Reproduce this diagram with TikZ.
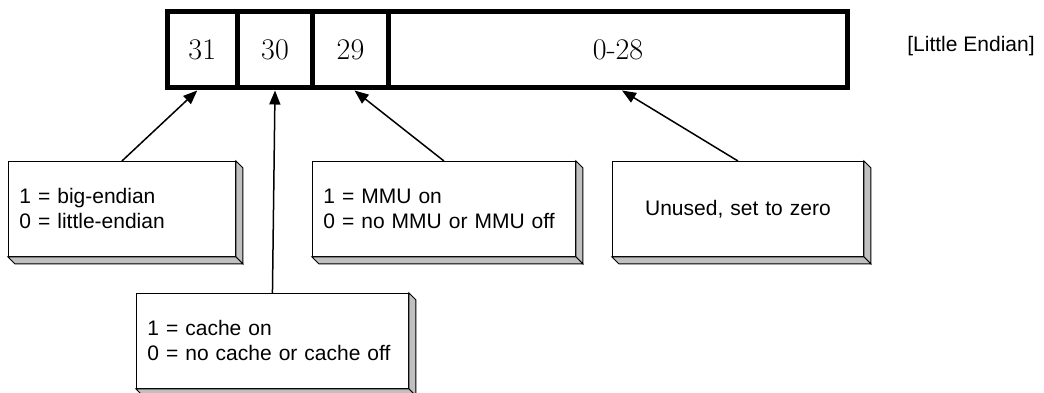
\documentclass[tikz,border=0pt]{standalone}
\usepackage{fontspec}
\newfontfamily\arialfont{Liberation Sans}
\usetikzlibrary{arrows.meta}
\definecolor{bevelgray}{HTML}{C0C0C0}
\tikzset{
  x=1pt, y=-1pt,
  cell/.style={draw, line width=5pt, inner sep=0pt, minimum height=76pt,
    anchor=north west, font=\fontsize{30}{32}\selectfont},
  note/.style={draw, line width=0.9pt, fill=white, inner xsep=11pt, inner ysep=0pt,
    minimum height=95pt, anchor=north west, align=left,
    font=\arialfont\fontsize{21}{25}\selectfont},
  face/.style={draw, line width=0.9pt, fill=bevelgray, line join=miter},
  pointer/.style={line width=1.5pt, -{Triangle[length=14pt,width=11pt]}},
}
% raised box edge on the right and bottom of a note
\newcommand\raisededge[1]{%
  \path[face] (#1.north east) -- ++(7,7) -- ([shift={(7,7)}]#1.south east) -- (#1.south east) -- cycle;
  \path[face] (#1.south west) -- (#1.south east) -- ++(7,7) -- ([shift={(7,7)}]#1.south west) -- cycle;
}
\begin{document}
\begin{tikzpicture}
\useasboundingbox (0,0) rectangle (1044,393);

% register cells
\node[cell, minimum width=70.5pt] (c31) at (164.5,9.5) {31};
\node[cell, minimum width=75pt]   (c30) at (235,9.5) {30};
\node[cell, minimum width=76pt]   (c29) at (310,9.5) {29};
\node[cell, minimum width=459pt]  (c0)  at (386,9.5) {0-28};

\node[font=\arialfont\fontsize{21}{25}\selectfont] (le) at (971,46) {[Little Endian]};

% notes
\node[note, text width=205pt] (n31) at (8,161) {1 = big-endian\\0 = little-endian};
\node[note, text width=250pt] (n30) at (136,293) {1 = cache on\\0 = no cache or cache off};
\node[note, text width=241pt] (n29) at (312,161) {1 = MMU on\\0 = no MMU or MMU off};
\node[note, text width=229pt, align=center] (n0) at (612,161) {Unused, set to zero};

\raisededge{n31}
\raisededge{n30}
\raisededge{n29}
\raisededge{n0}

% pointers from notes to bits
\draw[pointer] (n31.north) -- ([xshift=-5pt]c31.south);
\draw[pointer] (n30.north) -- (c30.south);
\draw[pointer] (n29.north) -- ([xshift=4pt]c29.south);
\draw[pointer] (n0.north) -- ([xshift=4pt]c0.south);
\end{tikzpicture}
\end{document}
